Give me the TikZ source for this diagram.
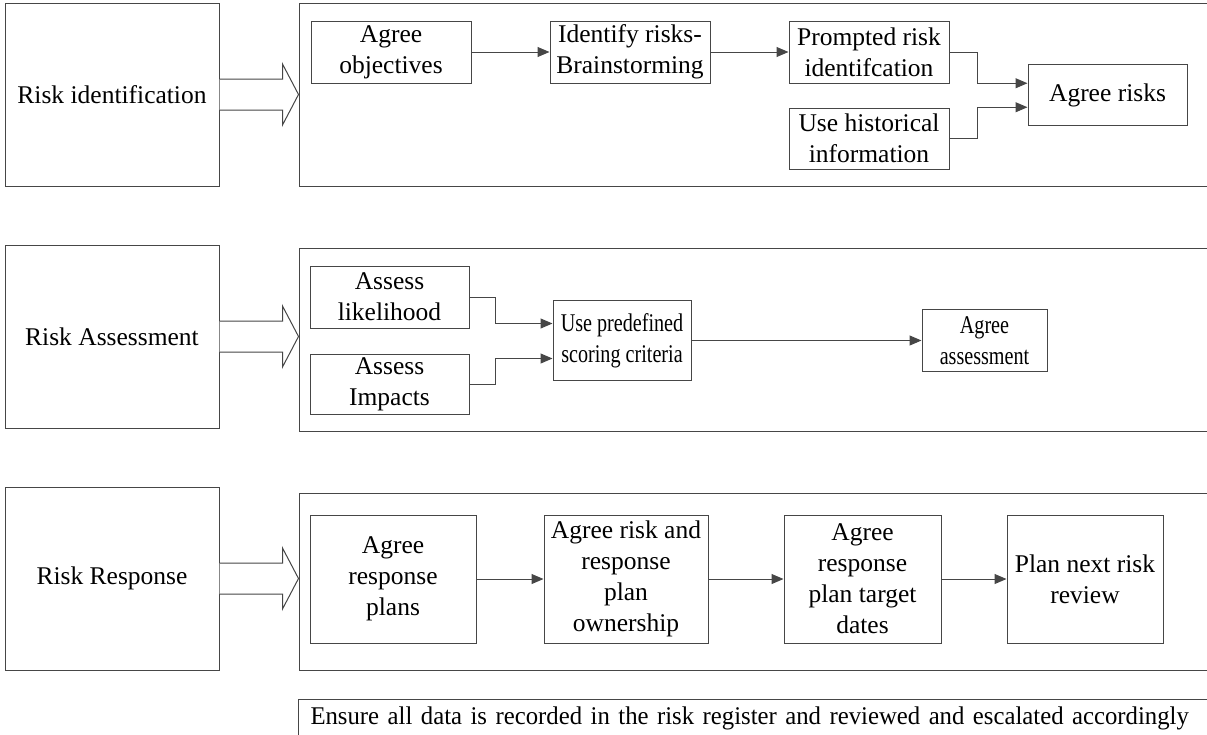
\documentclass[tikz,border=0pt]{standalone}
\usepackage{fontspec}
\setmainfont{Liberation Serif}
\newfontfamily\narrowserif[FakeStretch=0.79]{Liberation Serif}
\newfontfamily\noteserif[FakeStretch=0.97]{Liberation Serif}
\usepackage{tikz}
\usetikzlibrary{arrows.meta, positioning, calc}
\definecolor{linegray}{RGB}{70, 70, 70}
\tikzset{
  stagebox/.style={rectangle, draw=linegray, line width=1pt,
              minimum width=214pt, minimum height=183pt, inner sep=3pt},
  groupbox/.style={rectangle, draw=linegray, line width=1pt,
              minimum width=940pt, minimum height=#1, inner sep=0pt},
  groupbox/.default=183pt,
  stepbox/.style={rectangle, draw=linegray, line width=1pt,
              minimum width=#1, minimum height=62pt, inner sep=3pt},
  stepbox/.default=160pt,
  narrowtext/.style={font=\narrowserif\fontsize{25.5}{31}\selectfont},
  notebox/.style={rectangle, draw=linegray, line width=1pt, anchor=north west,
              text width=926pt, align=left,
              font=\noteserif\fontsize{25.5}{31}\selectfont,
              inner xsep=12pt, inner ysep=8pt, text height=17pt, text depth=12pt},
  arrow/.style={-{Triangle[length=12pt, width=10pt]}, draw=linegray, line width=1pt},
  blockarrow/.style={draw=linegray, line width=1pt, fill=white},
}
\begin{document}
\begin{tikzpicture}[x=1pt, y=1pt, every node/.style={font=\fontsize{25.5}{31}\selectfont, align=center}]
  \useasboundingbox (0,0) rectangle (1207,-734);
  \clip (0,0) rectangle (1207,-734);

  \node[stagebox] (ident) at (112,-94.5) {Risk identification};
  \node[stagebox, below=58pt of ident] (assess) {Risk Assessment};
  \node[stagebox, below=58pt of assess] (resp) {Risk Response};

  \node[groupbox, right=79pt of ident] (identgrp) {};
  \node[groupbox, right=79pt of assess, yshift=-3pt] (assessgrp) {};
  \node[groupbox=177pt, right=79pt of resp, yshift=-3pt] (respgrp) {};

  \foreach \s/\g in {ident/identgrp, assess/assessgrp, resp/respgrp}
    \draw[blockarrow] ([yshift=15.5pt]\s.east) -- ++(63,0) -- ++(0,15) -- (\s.east -| \g.west)
          -- ([xshift=63pt, yshift=-30.5pt]\s.east) -- ++(0,15) -- ([yshift=-15.5pt]\s.east);

  \node[stepbox, below right=18pt and 12pt of identgrp.north west] (agreeobj)
        {Agree\\objectives};
  \node[stepbox, right=78pt of agreeobj] (idrisks)
        {Identify risks-\\Brainstorming};
  \node[stepbox, right=78pt of idrisks] (prompted)
        {Prompted risk\\identifcation};
  \node[stepbox, minimum height=61pt, below=24pt of prompted] (history)
        {Use historical\\information};
  \coordinate (riskmid) at ($(prompted.east)!0.5!(history.east)$);
  \node[stepbox=159pt, minimum height=61pt, right=78pt of riskmid] (agreerisks)
        {Agree risks};

  \draw[arrow] (agreeobj) -- (idrisks);
  \draw[arrow] (idrisks) -- (prompted);
  \draw[arrow] (prompted.east) -- ++(28,0) |- ([yshift=12pt]agreerisks.west);
  \draw[arrow] (history.east) -- ++(28,0) |- ([yshift=-12pt]agreerisks.west);

  \node[stepbox=159pt, below right=18pt and 11pt of assessgrp.north west] (likely)
        {Assess\\likelihood};
  \node[stepbox=159pt, minimum height=60pt, below=25pt of likely] (impacts)
        {Assess\\Impacts};
  \coordinate (assessmid) at ($(likely.east)!0.5!(impacts.east)$);
  \node[stepbox=138pt, minimum height=80pt, narrowtext, right=83pt of assessmid] (scoring)
        {Use predefined\\scoring criteria};
  \node[stepbox=125pt, narrowtext, right=230pt of scoring] (agreeassess)
        {Agree\\assessment};

  \draw[arrow] (likely.east) -- ++(26,0) |- ([yshift=17pt]scoring.west);
  \draw[arrow] (impacts.east) -- ++(26,0) |- ([yshift=-18pt]scoring.west);
  \draw[arrow] (scoring) -- (agreeassess);

  \node[stepbox=166pt, minimum height=128pt, below right=22pt and 11pt of respgrp.north west] (respplans)
        {Agree\\response\\plans};
  \node[stepbox=164pt, minimum height=128pt, right=67pt of respplans] (ownership)
        {Agree risk and\\response\\plan\\ownership};
  \node[stepbox=157pt, minimum height=128pt, right=75pt of ownership] (targets)
        {Agree\\response\\plan target\\dates};
  \node[stepbox=156pt, minimum height=128pt, right=65pt of targets] (nextreview)
        {Plan next risk\\review};

  \draw[arrow] (respplans) -- (ownership);
  \draw[arrow] (ownership) -- (targets);
  \draw[arrow] (targets) -- (nextreview);

  \node[notebox] (note) at (298,-699)
        {Ensure all data is recorded in the risk register and reviewed and escalated accordingly};
\end{tikzpicture}
\end{document}
